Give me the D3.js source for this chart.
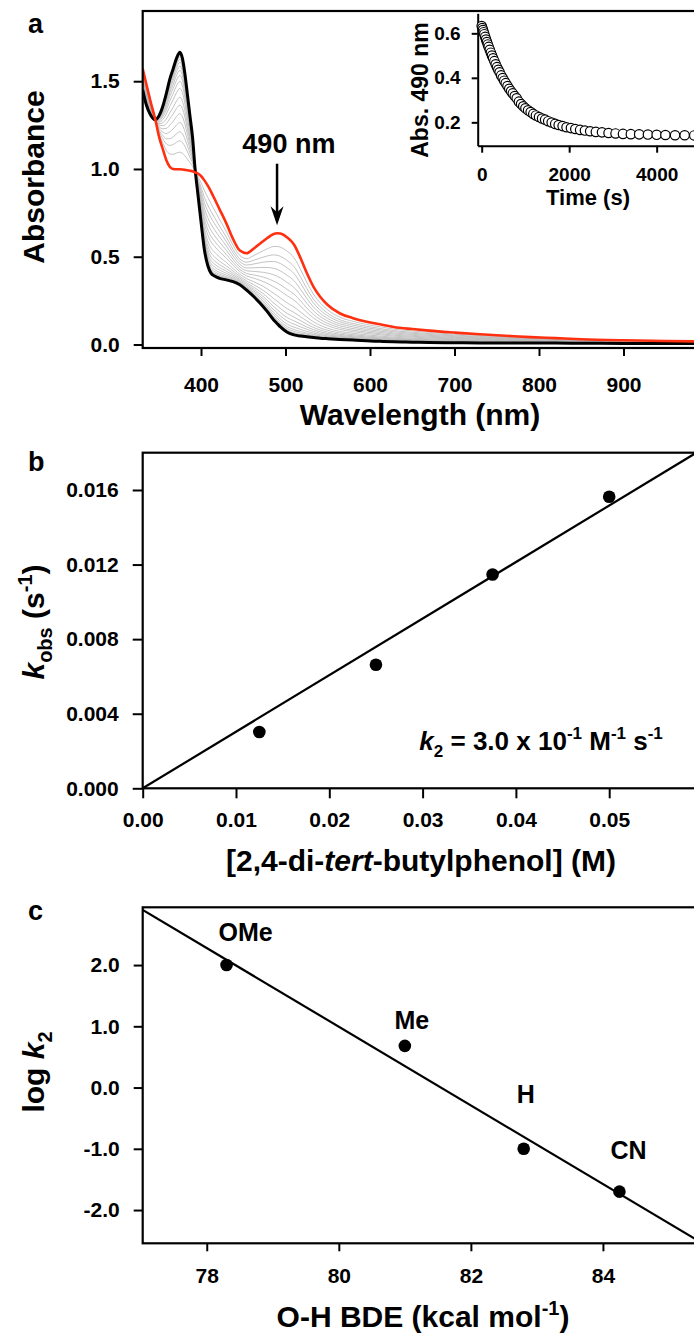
<!DOCTYPE html>
<html><head><meta charset="utf-8">
<script src="https://cdn.jsdelivr.net/npm/d3@7"></script>
<style>
body{margin:0;background:#fff;}
svg{display:block;}
text{font-family:"Liberation Sans",Arial,Helvetica,sans-serif;font-weight:bold;fill:#000;}
</style></head><body>
<svg id="chart" width="694" height="1339"></svg>
<script>
// ---------- Panel a: UV-vis spectra ----------
const wavelengths = [331,335,340,346,350,355,359,363,367,371,375,378,381,384,387,390,393,396,400,404,408,412,416,422,430,438,446,454,462,470,478,486,490,494,502,510,518,525,533,541,550,564,580,596,612,628,650,670,700,730,760,790,820,850,900,950,1000];
const absInitial = [1.57,1.49,1.39,1.28,1.19,1.11,1.05,1.013,1.0,0.998,0.998,0.997,0.995,0.993,0.99,0.987,0.98,0.975,0.96,0.935,0.905,0.87,0.83,0.77,0.69,0.60,0.535,0.52,0.545,0.575,0.605,0.63,0.634,0.632,0.61,0.57,0.49,0.41,0.33,0.272,0.225,0.178,0.15,0.13,0.115,0.10,0.088,0.079,0.068,0.058,0.05,0.042,0.036,0.03,0.024,0.02,0.017];
const absFinal = [1.45,1.37,1.31,1.28,1.30,1.36,1.43,1.51,1.57,1.63,1.665,1.63,1.54,1.42,1.30,1.18,1.00,0.87,0.70,0.54,0.45,0.405,0.39,0.377,0.368,0.358,0.34,0.31,0.275,0.235,0.19,0.14,0.12,0.10,0.07,0.055,0.048,0.044,0.040,0.036,0.033,0.029,0.025,0.021,0.018,0.015,0.013,0.011,0.010,0.009,0.009,0.008,0.008,0.007,0.006,0.005,0.005];
const ticksAx = [400,500,600,700,800,900];
const ticksAy = [0,0.5,1.0,1.5];

// inset: absorbance at 490 nm vs time
const timeS = [0,15,30,45,60,80,100,120,140,160,185,210,235,260,290,320,350,380,410,445,480,515,550,590,630,670,710,755,800,850,900,950,1000,1060,1120,1180,1240,1310,1380,1450,1520,1600,1680,1760,1850,1940,2040,2140,2250,2360,2480,2610,2750,2900,3060,3230,3410,3600,3800,4000,4200,4420,4640,4860,5080];
const abs490 = [0.633,0.624,0.615,0.605,0.596,0.584,0.572,0.561,0.550,0.539,0.526,0.513,0.500,0.488,0.475,0.461,0.448,0.436,0.425,0.411,0.399,0.387,0.376,0.363,0.351,0.340,0.330,0.318,0.308,0.293,0.282,0.272,0.263,0.254,0.246,0.238,0.231,0.224,0.217,0.212,0.205,0.199,0.193,0.188,0.183,0.178,0.174,0.170,0.166,0.163,0.160,0.157,0.155,0.152,0.150,0.148,0.147,0.146,0.145,0.144,0.143,0.142,0.142,0.141,0.141];
// inset points at which the intermediate (grey) spectra were recorded
const spectrumIdx = [7,11,14,17,20,23,26,29,32,35,38,41,44,47,50,53,56,59,62];
const ticksInsetX = [0,2000,4000];
const ticksInsetY = [0.2,0.4,0.6];

// ---------- Panel b ----------
const phenolConc = [0.0125,0.025,0.0375,0.05];
const kObs = [0.00302,0.00663,0.01147,0.01564];
const fitB = [[0,0],[0.06,0.0182]];
const ticksBx = [0,0.01,0.02,0.03,0.04,0.05];
const ticksBy = [0,0.004,0.008,0.012,0.016];

// ---------- Panel c ----------
const substituents = ["OMe","Me","H","CN"];
const bde = [78.3,81.0,82.8,84.25];
const logK2 = [2.0,0.68,-1.0,-1.7];
const fitC = [[77,2.92],[86,-2.86]];
const ticksCx = [78,80,82,84];
const ticksCy = [-2,-1,0,1,2];
const labelOffC = [[19,-24],[7,-17],[2,-46],[9,-33]];

const FONT = '"Liberation Sans",Arial,Helvetica,sans-serif';
const svg = d3.select("#chart");

function styleAxis(g, fs){
  g.attr("font-family",FONT).attr("font-size",fs).attr("font-weight","bold");
  g.selectAll(".tick line").attr("stroke","#000").attr("stroke-width",2);
  g.selectAll(".tick text").attr("fill","#000");
  g.select(".domain").attr("stroke","#000").attr("stroke-width",2);
}
function frame(x0,y0,x1,y1){
  svg.append("rect").attr("x",x0).attr("y",y0).attr("width",x1-x0).attr("height",y1-y0)
    .attr("fill","none").attr("stroke","#000").attr("stroke-width",2.2);
}
function clip(id,x0,y0,x1,y1){
  svg.append("clipPath").attr("id",id).append("rect").attr("x",x0).attr("y",y0).attr("width",x1-x0).attr("height",y1-y0);
}
const fmt1 = d => d.toFixed(1);

// ===== Panel a =====
const xa = d3.scaleLinear([331,1000],[142.7,708]);
const ya = d3.scaleLinear([-0.02,1.9],[348,11]);
clip("clipA",142.7,11,708,348);
const lineA = d3.line().x(d=>xa(d[0])).y(d=>ya(d[1])).curve(d3.curveMonotoneX);
const aStart = abs490[0], aEnd = abs490[abs490.length-1];
const gA = svg.append("g").attr("clip-path","url(#clipA)");
spectrumIdx.forEach(i=>{
  const w = (abs490[i]-aEnd)/(aStart-aEnd);
  const pts = wavelengths.map((wl,j)=>[wl, absFinal[j] + w*(absInitial[j]-absFinal[j])]);
  gA.append("path").attr("d",lineA(pts)).attr("fill","none").attr("stroke","#b4b4b4").attr("stroke-width",0.8);
});
gA.append("path").attr("d",lineA(wavelengths.map((wl,j)=>[wl,absFinal[j]])))
  .attr("fill","none").attr("stroke","#000").attr("stroke-width",3);
gA.append("path").attr("d",lineA(wavelengths.map((wl,j)=>[wl,absInitial[j]])))
  .attr("fill","none").attr("stroke","#ff3010").attr("stroke-width",2.6);

svg.append("g").attr("transform","translate(0,348)")
  .call(d3.axisBottom(xa).tickValues(ticksAx).tickSize(8).tickPadding(21).tickSizeOuter(0))
  .call(g=>styleAxis(g,21)).call(g=>g.select(".domain").remove());
svg.append("g").attr("transform","translate(142.7,0)")
  .call(d3.axisLeft(ya).tickValues(ticksAy).tickFormat(fmt1).tickSize(9).tickPadding(14).tickSizeOuter(0))
  .call(g=>styleAxis(g,21)).call(g=>g.select(".domain").remove());
frame(142.7,11,708,348);

// arrow at 490 nm
const ax = xa(490);
svg.append("line").attr("x1",ax).attr("x2",ax).attr("y1",ya(1.03)).attr("y2",ya(0.74))
  .attr("stroke","#000").attr("stroke-width",2.5);
const tipY = ya(0.68);
svg.append("path").attr("d",`M${ax},${tipY} L${ax-6.5},${tipY-19} L${ax},${tipY-13} L${ax+6.5},${tipY-19} Z`).attr("fill","#000");
svg.append("text").attr("x",xa(504)).attr("y",ya(1.09)).attr("text-anchor","middle").attr("font-size",27).text("490 nm");

svg.append("text").attr("x",420).attr("y",425).attr("text-anchor","middle").attr("font-size",30).text("Wavelength (nm)");
svg.append("text").attr("transform","translate(44,177) rotate(-90)").attr("text-anchor","middle").attr("font-size",30).text("Absorbance");
svg.append("text").attr("x",28).attr("y",33).attr("font-size",27).text("a");

// ===== Inset =====
const xi = d3.scaleLinear([-91,5000],[477.7,700.4]);
const yi = d3.scaleLinear([0.095,0.69],[145.7,13.3]);
svg.append("g").attr("transform","translate(0,145.7)")
  .call(d3.axisBottom(xi).tickValues(ticksInsetX).tickFormat(d3.format("d")).tickSize(7).tickPadding(15).tickSizeOuter(0))
  .call(g=>styleAxis(g,19));
svg.append("g").attr("transform","translate(477.7,0)")
  .call(d3.axisLeft(yi).tickValues(ticksInsetY).tickFormat(fmt1).tickSize(6).tickPadding(11).tickSizeOuter(0))
  .call(g=>styleAxis(g,19));
svg.append("g").selectAll("circle").data(timeS).join("circle")
  .attr("cx",(d)=>xi(d)).attr("cy",(d,i)=>yi(abs490[i])).attr("r",4.7)
  .attr("fill","#fff").attr("stroke","#000").attr("stroke-width",1.2);
svg.append("text").attr("x",588).attr("y",205).attr("text-anchor","middle").attr("font-size",22).text("Time (s)");
svg.append("text").attr("transform","translate(428,90) rotate(-90)").attr("text-anchor","middle").attr("font-size",23).text("Abs. 490 nm");

// ===== Panel b =====
const xb = d3.scaleLinear([0,0.06],[142.7,702.5]);
const yb = d3.scaleLinear([0,0.018],[788.3,452.7]);
clip("clipB",142.7,452.7,702.5,788.3);
svg.append("g").attr("clip-path","url(#clipB)").append("path")
  .attr("d",d3.line().x(d=>xb(d[0])).y(d=>yb(d[1]))(fitB)).attr("stroke","#000").attr("stroke-width",2.2).attr("fill","none");
svg.append("g").selectAll("circle").data(phenolConc).join("circle")
  .attr("cx",d=>xb(d)).attr("cy",(d,i)=>yb(kObs[i])).attr("r",6.3).attr("fill","#000");
svg.append("g").attr("transform","translate(0,788.3)")
  .call(d3.axisBottom(xb).tickValues(ticksBx).tickFormat(d=>d.toFixed(2)).tickSize(10).tickPadding(14).tickSizeOuter(0))
  .call(g=>styleAxis(g,21)).call(g=>g.select(".domain").remove());
svg.append("g").attr("transform","translate(142.7,0)")
  .call(d3.axisLeft(yb).tickValues(ticksBy).tickFormat(d=>d.toFixed(3)).tickSize(10).tickPadding(14).tickSizeOuter(0))
  .call(g=>styleAxis(g,21)).call(g=>g.select(".domain").remove());
frame(142.7,452.7,702.5,788.3);
svg.append("text").attr("x",28).attr("y",471).attr("font-size",27).text("b");
// k2 annotation
{
  const t = svg.append("text").attr("x",xb(0.02965)).attr("y",yb(0.00205)).attr("font-size",26);
  t.append("tspan").attr("font-style","italic").text("k");
  t.append("tspan").attr("font-size",17).attr("dy",7).text("2");
  t.append("tspan").attr("dy",-7).text(" = 3.0 x 10");
  t.append("tspan").attr("font-size",17).attr("dy",-11).text("-1");
  t.append("tspan").attr("dy",11).text(" M");
  t.append("tspan").attr("font-size",17).attr("dy",-11).text("-1");
  t.append("tspan").attr("dy",11).text(" s");
  t.append("tspan").attr("font-size",17).attr("dy",-11).text("-1");
}
{
  const t = svg.append("text").attr("x",421).attr("y",871).attr("text-anchor","middle").attr("font-size",30);
  t.append("tspan").text("[2,4-di-");
  t.append("tspan").attr("font-style","italic").text("tert");
  t.append("tspan").text("-butylphenol] (M)");
}
{
  const t = svg.append("text").attr("transform","translate(44,622) rotate(-90)").attr("text-anchor","middle").attr("font-size",30);
  t.append("tspan").attr("font-style","italic").text("k");
  t.append("tspan").attr("font-size",20).attr("dy",8).text("obs");
  t.append("tspan").attr("dy",-8).text(" (s");
  t.append("tspan").attr("font-size",20).attr("dy",-12).text("-1");
  t.append("tspan").attr("dy",12).text(")");
}

// ===== Panel c =====
const xc = d3.scaleLinear([77.03,86],[142.7,735]);
const yc = d3.scaleLinear([-2.543,2.943],[1243.3,907.3]);
clip("clipC",142.7,907.3,735,1243.3);
svg.append("g").attr("clip-path","url(#clipC)").append("path")
  .attr("d",d3.line().x(d=>xc(d[0])).y(d=>yc(d[1]))(fitC)).attr("stroke","#000").attr("stroke-width",2.2).attr("fill","none");
svg.append("g").selectAll("circle").data(bde).join("circle")
  .attr("cx",d=>xc(d)).attr("cy",(d,i)=>yc(logK2[i])).attr("r",6.3).attr("fill","#000");
svg.append("g").selectAll("text").data(substituents).join("text")
  .attr("x",(d,i)=>xc(bde[i])+labelOffC[i][0]).attr("y",(d,i)=>yc(logK2[i])+labelOffC[i][1])
  .attr("text-anchor","middle").attr("font-size",25).text(d=>d);
svg.append("g").attr("transform","translate(0,1243.3)")
  .call(d3.axisBottom(xc).tickValues(ticksCx).tickSize(8).tickPadding(17).tickSizeOuter(0))
  .call(g=>styleAxis(g,21)).call(g=>g.select(".domain").remove());
svg.append("g").attr("transform","translate(142.7,0)")
  .call(d3.axisLeft(yc).tickValues(ticksCy).tickFormat(fmt1).tickSize(9).tickPadding(14).tickSizeOuter(0))
  .call(g=>styleAxis(g,21)).call(g=>g.select(".domain").remove());
frame(142.7,907.3,735,1243.3);
svg.append("text").attr("x",28).attr("y",920).attr("font-size",27).text("c");
{
  const t = svg.append("text").attr("x",423).attr("y",1327).attr("text-anchor","middle").attr("font-size",30);
  t.append("tspan").text("O-H BDE (kcal mol");
  t.append("tspan").attr("font-size",20).attr("dy",-12).text("-1");
  t.append("tspan").attr("dy",12).text(")");
}
{
  const t = svg.append("text").attr("transform","translate(44,1072) rotate(-90)").attr("text-anchor","middle").attr("font-size",30);
  t.append("tspan").text("log ");
  t.append("tspan").attr("font-style","italic").text("k");
  t.append("tspan").attr("font-size",20).attr("dy",8).text("2");
}
</script>
</body></html>
